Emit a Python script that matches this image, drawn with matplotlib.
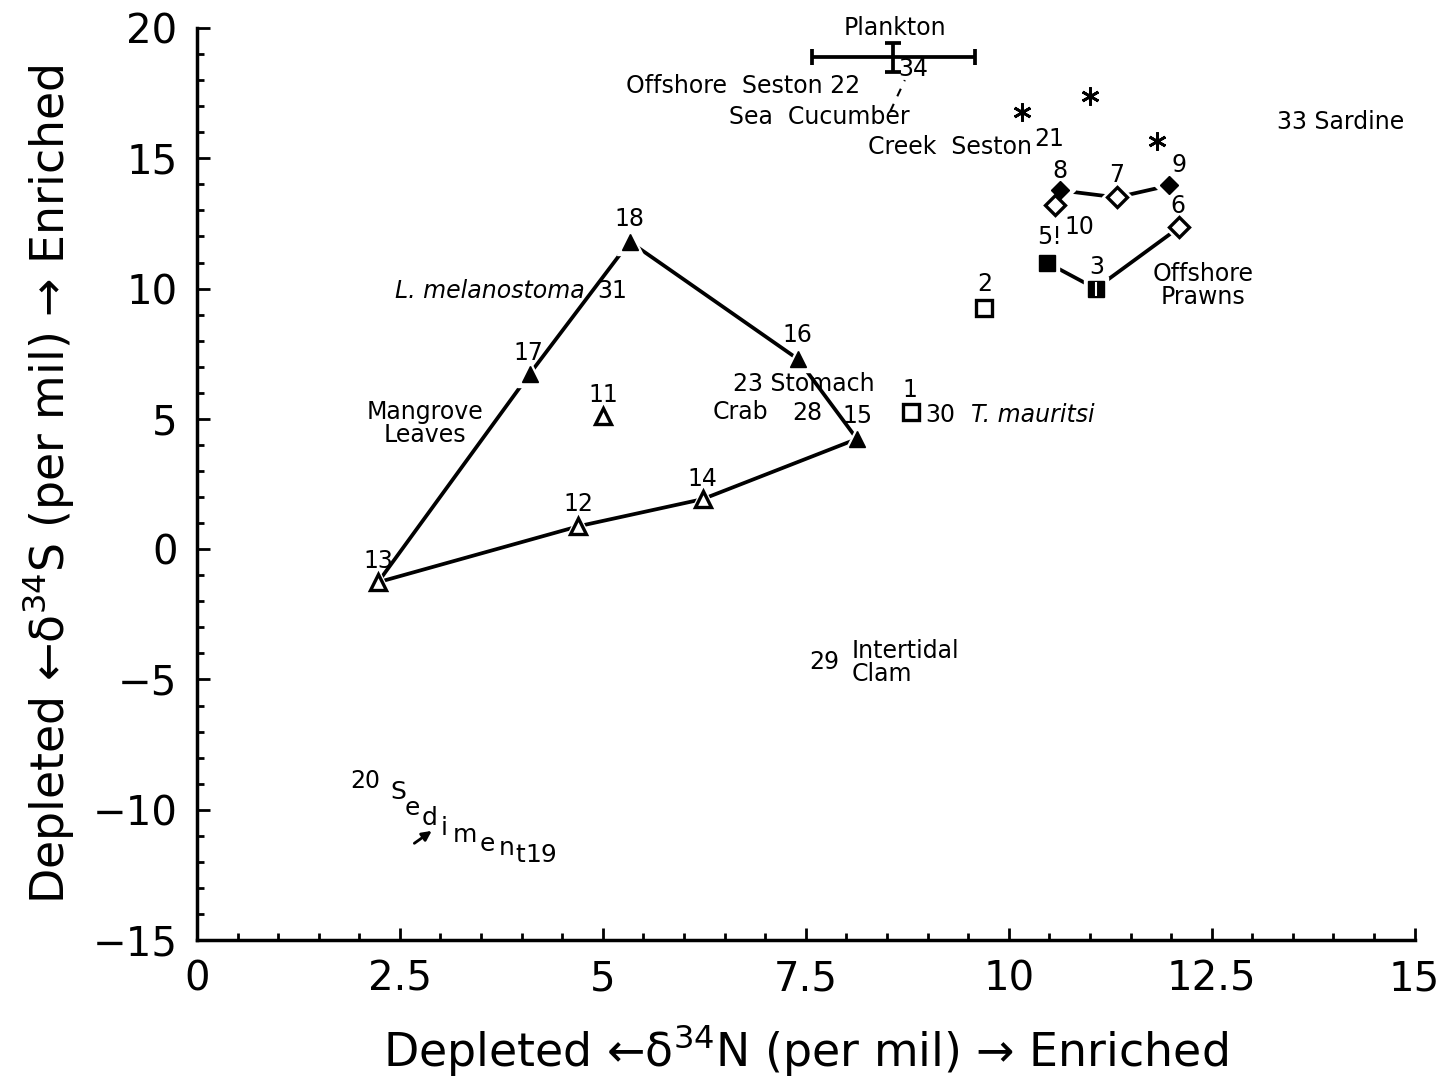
import numpy as np
import matplotlib
matplotlib.use('Agg')
from matplotlib import pyplot as plt
from matplotlib.ticker import MultipleLocator

plt.rcParams['font.family'] = ['DejaVu Sans']

# delta15N (x) and delta34S (y) values
# filled triangles (hull 1)
tri_f_id = ['18', '17', '16', '15']
tri_f_x = [5.33, 4.10, 7.40, 8.13]
tri_f_y = [11.8, 6.73, 7.30, 4.23]
# open triangles
tri_o_id = ['13', '12', '14', '11']
tri_o_x = [2.23, 4.70, 6.23, 5.00]
tri_o_y = [-1.27, 0.88, 1.92, 5.10]

# polygon joining the triangles: 13-17-18-16-15-14-12-13
poly_x = [2.23, 4.10, 5.33, 7.40, 8.13, 6.23, 4.70, 2.23]
poly_y = [-1.27, 6.73, 11.8, 7.30, 4.23, 1.92, 0.88, -1.27]

# squares
sq_o_x = [8.79, 9.70]          # 1, 2
sq_o_y = [5.27, 9.27]
sq_f_x = [10.47, 11.07]        # 5, 3
sq_f_y = [11.00, 10.00]

# diamonds
dia_o_x = [10.57, 11.33, 12.10]   # 10, 7, 6
dia_o_y = [13.20, 13.50, 12.35]
dia_f_x = [10.63, 11.98]          # 8, 9
dia_f_y = [13.77, 13.96]

# prawn lines 8-7-9 and 5-3-6
pr1_x = [10.63, 11.33, 11.98]
pr1_y = [13.77, 13.50, 13.96]
pr2_x = [10.47, 11.07, 12.10]
pr2_y = [11.00, 10.00, 12.35]

# creek seston (asterisks)
star_x = [10.16, 11.00, 11.82]
star_y = [16.77, 17.40, 15.65]

# plankton mean +- error
plank_x, plank_y = 8.58, 18.87
plank_xerr, plank_yerr = 1.0, 0.57

fig = plt.figure(figsize=(14.45, 10.9), dpi=100)
ax = fig.add_axes([0.1363, 0.1376, 0.979 - 0.1363, 0.9743 - 0.1376])

lw = 2.7
ax.plot(poly_x, poly_y, c='black', lw=lw, zorder=1)
ax.plot(pr1_x, pr1_y, c='black', lw=lw, zorder=1)
ax.plot(pr2_x, pr2_y, c='black', lw=lw, zorder=1)

# white halos so lines stop short of the markers
halo = dict(ls='none', mfc='white', mec='white', zorder=2)
ax.plot(tri_f_x + tri_o_x, tri_f_y + tri_o_y, marker='^', ms=19, **halo)
ax.plot(sq_o_x + sq_f_x, sq_o_y + sq_f_y, marker='s', ms=17, **halo)
ax.plot(dia_o_x + dia_f_x, dia_o_y + dia_f_y, marker='D', ms=15, **halo)

ax.plot(tri_f_x, tri_f_y, ls='none', marker='^', ms=12, mfc='black', mec='black', zorder=3)
ax.plot(tri_o_x, tri_o_y, ls='none', marker='^', ms=11, mfc='white', mec='black', mew=2.4, zorder=3)
ax.plot(sq_o_x, sq_o_y, ls='none', marker='s', ms=11, mfc='white', mec='black', mew=2.4, zorder=3)
ax.plot(sq_f_x, sq_f_y, ls='none', marker='s', ms=11, mfc='black', mec='black', zorder=3)
ax.plot(sq_f_x[1:], sq_f_y[1:], ls='none', marker='|', ms=10, mec='white', mew=1.5, zorder=4)
ax.plot(dia_o_x, dia_o_y, ls='none', marker='D', ms=10, mfc='white', mec='black', mew=2.4, zorder=3)
ax.plot(dia_f_x, dia_f_y, ls='none', marker='D', ms=9, mfc='black', mec='black', zorder=3)
ax.plot(star_x, star_y, ls='none', marker=(6, 2, 0), ms=13, mec='black', mew=2.0, zorder=3)

ax.errorbar(plank_x, plank_y, xerr=plank_xerr, yerr=plank_yerr, fmt='none',
            ecolor='black', elinewidth=2.7, capsize=6, capthick=2.7, zorder=3)

# leader line Sea Cucumber -> 34
ax.plot([8.54, 8.72], [16.8, 18.0], c='black', lw=1.5, ls=(0, (4, 4)))
# sediment arrow
ax.annotate('', xy=(2.92, -10.75), xytext=(2.65, -11.35),
            arrowprops=dict(arrowstyle='-|>', color='black', lw=2, mutation_scale=14))

fs = 17
def lab(x, y, s, ha='center', va='center', size=fs, **kw):
    ax.text(x, y, s, ha=ha, va=va, fontsize=size, clip_on=False, **kw)

for i, x, y in zip(tri_f_id + tri_o_id,
                   [5.33, 4.08, 7.40, 8.14, 2.23, 4.70, 6.23, 5.00],
                   [12.66, 7.52, 8.21, 5.10, -0.46, 1.73, 2.69, 5.91]):
    lab(x, y, i)

lab(8.60, 20.0, 'Plankton')
lab(5.28, 17.77, 'Offshore  Seston 22', ha='left')
lab(8.82, 18.42, '34')
lab(6.55, 16.58, 'Sea  Cucumber', ha='left')
lab(8.26, 15.43, 'Creek  Seston', ha='left')
lab(10.50, 15.73, '21')
lab(13.31, 16.39, '33 Sardine', ha='left')
lab(10.63, 14.50, '8')
lab(11.33, 14.35, '7')
lab(12.10, 14.74, '9')
lab(12.08, 13.16, '6')
lab(10.87, 12.36, '10')
lab(10.50, 11.97, '5!')
lab(11.08, 10.82, '3')
lab(9.70, 10.17, '2')
lab(12.39, 10.13, 'Offshore\nPrawns', linespacing=0.95)
lab(2.44, 9.90, 'L. melanostoma', ha='left', style='italic')
lab(5.11, 9.90, '31')
lab(2.81, 4.83, 'Mangrove\nLeaves', linespacing=0.95)
lab(6.60, 6.33, '23 Stomach', ha='left')
lab(6.70, 5.26, 'Crab')
lab(7.52, 5.22, '28')
lab(8.78, 6.10, '1')
lab(9.16, 5.14, '30')
lab(9.54, 5.14, 'T. mauritsi', ha='left', style='italic')
lab(7.73, -4.34, '29')
lab(8.07, -4.34, 'Intertidal\nClam', ha='left', linespacing=0.95)
lab(2.07, -8.90, '20')

# "Sediment" written stepping down the slope, then 19
sed_chars = ['S', 'e', 'd', 'i', 'm', 'e', 'n', 't', '19']
sed_x = [2.48, 2.65, 2.87, 3.05, 3.30, 3.58, 3.82, 3.98, 4.24]
sed_y = [-9.33, -9.94, -10.32, -10.71, -10.98, -11.33, -11.48, -11.75, -11.75]
for c, x, y in zip(sed_chars, sed_x, sed_y):
    lab(x, y, c, size=18)

ax.set_xlim(0, 15)
ax.set_ylim(-15, 20)
ax.xaxis.set_major_locator(MultipleLocator(2.5))
ax.xaxis.set_minor_locator(MultipleLocator(0.5))
ax.yaxis.set_major_locator(MultipleLocator(5))
ax.yaxis.set_minor_locator(MultipleLocator(1))
ax.set_xticks([0, 2.5, 5, 7.5, 10, 12.5, 15])
ax.set_xticklabels(['0', '2.5', '5', '7.5', '10', '12.5', '15'])

for s in ['top', 'right']:
    ax.spines[s].set_visible(False)
for s in ['left', 'bottom']:
    ax.spines[s].set_linewidth(2.5)

ax.tick_params(which='both', direction='in', width=2)
ax.tick_params(which='major', length=9, labelsize=29)
ax.tick_params(which='minor', length=5)
ax.tick_params(axis='x', which='major', pad=14)
ax.tick_params(axis='y', which='major', pad=14)

ax.set_xlabel('Depleted \u2190\u03b4$^{34}$N (per mil) \u2192 Enriched', fontsize=33, labelpad=16)
ax.set_ylabel('Depleted \u2190\u03b4$^{34}$S (per mil) \u2192 Enriched', fontsize=33, labelpad=12)

fig.savefig('out.png', dpi=100)
